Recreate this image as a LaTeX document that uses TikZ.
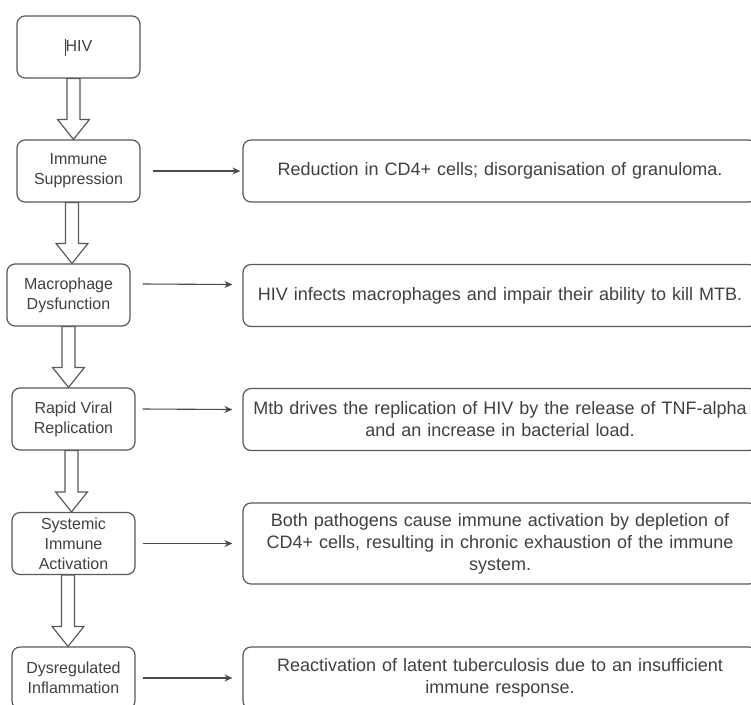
\documentclass[tikz,border=0pt]{standalone}
\usepackage{fontspec}
\setmainfont{Liberation Sans}
\usetikzlibrary{arrows.meta,calc}
\tikzset{
  stage/.style={ draw=black!65, rounded corners=8pt, line width=1.2pt, minimum width=123pt, minimum height=62pt, inner ysep=2pt, align=center, text=black!75, font=\fontsize{16}{20}\selectfont }
}
\tikzset{
  effect/.style={ draw=black!65, rounded corners=8pt, line width=1.2pt, text width=500pt, inner xsep=7pt, minimum height=62pt, align=center, text=black!75, font=\fontsize{18}{22}\selectfont }
}
\tikzset{
  link/.style={ draw=black!70, line width=1.1pt, -{Stealth[length=8pt, width=7pt]} }
}
\tikzset{
  hollow/.style={ draw=black!65, line width=1.2pt, fill=white }
}
\newcommand{\hollowarrow}[3]{%
  \draw[hollow] let \p1=(#1.south), \p2=(#2.north), \p3=(#3,0) in
    (\x3-6.5pt,\y1) -- (\x3-6.5pt,\y2+20pt) -- (\x3-16pt,\y2+20pt) -- (\x3,\y2)
    -- (\x3+16pt,\y2+20pt) -- (\x3+6.5pt,\y2+20pt) -- (\x3+6.5pt,\y1) -- cycle;}

\begin{document}
\begin{tikzpicture}[x=1pt, y=-1pt]
      \path[use as bounding box, clip] (0, 0) rectangle (751, 704);
      \fill[white] (0, 0) rectangle (751, 704);

      \node[stage] (hiv) at (78.5, 47) {\rule[-4pt]{0.8pt}{17pt}HIV};
      \node[stage] (supp) at (78.5, 171) {Immune\\Suppression};
      \node[stage] (macro) at (68.5, 295) {Macrophage\\Dysfunction};
      \node[stage] (rapid) at (73.5, 419) {Rapid Viral\\Replication};
      \node[stage] (syst) at (73.5, 543.5) {Systemic\\Immune\\Activation};
      \node[stage] (dysr) at (73.5, 678) {Dysregulated\\Inflammation};

      \hollowarrow{hiv}{supp}{73.5}
      \hollowarrow{supp}{macro}{72}
      \hollowarrow{macro}{rapid}{68.5}
      \hollowarrow{rapid}{syst}{71.5}
      \hollowarrow{syst}{dysr}{68}

      \node[effect] (reduce) at (500, 171) {Reduction in CD4+ cells; disorganisation of granuloma.};
      \node[effect] (infect) at (500, 295.5) {HIV infects macrophages and impair their ability to kill MTB.};
      \node[effect] (drive) at (500, 419.5) {Mtb drives the replication of HIV by the release of TNF-alpha\\and an increase in bacterial load.};
      \node[effect, minimum height=81pt] (deplete) at (500, 543.5) {Both pathogens cause immune activation by depletion of\\CD4+ cells, resulting in chronic exhaustion of the immune\\system.};
      \node[effect] (react) at (500, 678) {Reactivation of latent tuberculosis due to an insufficient\\immune response.};

      \draw[link] ([xshift=12pt]supp.east) -- ([xshift=-2pt]reduce.west);
      \draw[link] ([xshift=12pt, yshift=11pt]macro.east) -- ([xshift=-10pt, yshift=11pt]infect.west);
      \draw[link] ([xshift=7pt, yshift=10pt]rapid.east) -- ([xshift=-10pt, yshift=10pt]drive.west);
      \draw[link] ([xshift=7pt]syst.east) -- ([xshift=-10pt]deplete.west);
      \draw[link] ([xshift=7pt]dysr.east) -- ([xshift=-10pt]react.west);
    \end{tikzpicture}
\end{document}
